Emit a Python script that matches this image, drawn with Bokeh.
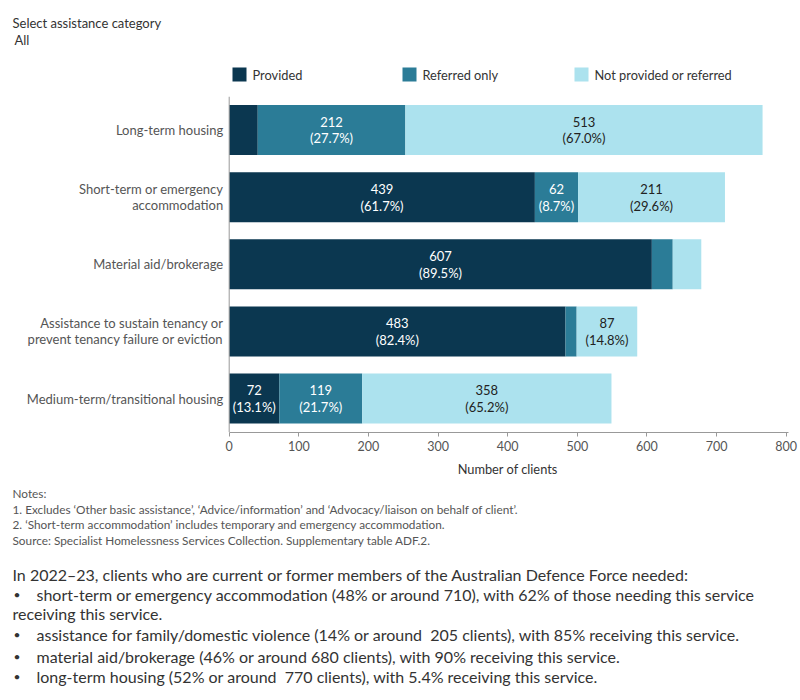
from bokeh.plotting import figure
from bokeh.layouts import column
from bokeh.models import ColumnDataSource, Range1d, FixedTicker
from bokeh.core.properties import value
from bokeh.embed import file_html
from bokeh.resources import INLINE

categories = [
    "Long-term housing",
    "Short-term or emergency\naccommodation",
    "Material aid/brokerage",
    "Assistance to sustain tenancy or\nprevent tenancy failure or eviction",
    "Medium-term/transitional housing",
]
provided = [41, 439, 607, 483, 72]
referred_only = [212, 62, 30, 16, 119]
not_provided = [513, 211, 41, 87, 358]
series_names = ["Provided", "Referred only", "Not provided or referred"]
x_ticks = [0, 100, 200, 300, 400, 500, 600, 700, 800]

FONT = "Lato"
colors = ["#0b3750", "#2b7c97", "#ace2ee"]
text_colors = ["#ffffff", "#ffffff", "#222222"]
W = 800


def blank_fig(h, y0):
    f = figure(width=W, height=h, output_backend="svg", toolbar_location=None,
               x_range=Range1d(0, W), y_range=Range1d(y0 + h, y0), min_border=0)
    f.axis.visible = False
    f.grid.grid_line_color = None
    f.outline_line_color = None
    return f


def put(f, txt, X, Y, size, color="#333333", align="left"):
    f.text(x=[X], y=[Y], text=[txt], text_font=value(FONT), text_font_size=size,
           text_color=color, text_baseline="middle", text_align=align)


# ---------- top: selector + legend ----------
TOP_H = 88
top = blank_fig(TOP_H, 0)
put(top, "Select assistance category", 12, 22, "13px", "#333333")
put(top, "All", 14, 39, "13px", "#333333")
leg_x = [232, 402, 574]
top.rect(x=[lx + 7 for lx in leg_x], y=[74] * 3, width=14, height=14, fill_color=colors, line_color=None)
top.text(x=[lx + 20 for lx in leg_x], y=[74] * 3, text=series_names, text_font=value(FONT),
         text_font_size="12.8px", text_color="#333333", text_baseline="middle", text_align="left")

# ---------- main chart (frame spans full width; data origin placed at pixel 229) ----------
PX0, PX_PER_UNIT = 228.7, 0.6963
x_start = -PX0 / PX_PER_UNIT
x_end = x_start + W / PX_PER_UNIT
n = len(categories)
ypos = [n - 1 - i for i in range(n)]
FRAME_H = 336
MAIN_H = 8 + FRAME_H + 26
p = figure(width=W, height=MAIN_H, output_backend="svg", toolbar_location=None,
           x_range=Range1d(x_start, x_end), y_range=Range1d(-0.505, n - 0.5),
           min_border_left=0, min_border_right=0, min_border_top=8, min_border_bottom=26)
p.outline_line_color = None
p.grid.grid_line_color = None
p.yaxis.visible = False

series = [provided, referred_only, not_provided]
totals = [a + b + c for a, b, c in zip(provided, referred_only, not_provided)]
lefts = [0] * n
for k, vals in enumerate(series):
    rights = [l + v for l, v in zip(lefts, vals)]
    labels = [f"{v}\n({v / t * 100:.1f}%)" if v >= 55 else "" for v, t in zip(vals, totals)]
    src = ColumnDataSource(dict(y=ypos, left=lefts, right=rights,
                                mid=[(l + r) / 2 for l, r in zip(lefts, rights)], label=labels))
    p.hbar(y="y", left="left", right="right", height=0.744, source=src,
           fill_color=colors[k], line_color=None)
    p.text(x="mid", y="y", text="label", source=src, text_align="center", text_baseline="middle",
           text_font=value(FONT), text_font_size="13px", text_color=text_colors[k],
           text_line_height=1.05)
    lefts = rights

# category labels (left of the value axis)
p.text(x=[0] * n, y=ypos, text=categories, x_offset=-6, text_align="right", text_baseline="middle",
       text_font=value(FONT), text_font_size="13px", text_color="#555555", text_line_height=1.0)
# vertical axis line at x = 0
p.segment(x0=[0], x1=[0], y0=[-0.5], y1=[n - 0.5], line_color="#999999", line_width=1)

p.xaxis.ticker = FixedTicker(ticks=x_ticks)
p.xaxis.bounds = (0, 803)
p.xaxis.major_label_text_font = FONT
p.xaxis.major_label_text_font_size = "12.5px"
p.xaxis.major_label_text_color = "#555555"
p.xaxis.major_label_standoff = 4
p.xaxis.axis_line_color = "#999999"
p.xaxis.major_tick_line_color = "#999999"
p.xaxis.major_tick_out = 4
p.xaxis.major_tick_in = 0
p.xaxis.minor_tick_line_color = None

# ---------- bottom: axis title, notes and summary ----------
BOT_Y0 = TOP_H + MAIN_H
bot = blank_fig(700 - BOT_Y0, BOT_Y0)
put(bot, "Number of clients", PX0 + 400 * PX_PER_UNIT, 468, "12.8px", "#333333", align="center")
notes = [
    "Notes:",
    "1. Excludes \u2018Other basic assistance\u2019, \u2018Advice/information\u2019 and \u2018Advocacy/liaison on behalf of client\u2019.",
    "2. \u2018Short-term accommodation\u2019 includes temporary and emergency accommodation.",
    "Source: Specialist Homelessness Services Collection. Supplementary table ADF.2.",
]
for i, t in enumerate(notes):
    put(bot, t, 12, 493 + i * 15.7, "11.8px", "#555555")

put(bot, "In 2022\u201323, clients who are current or former members of the Australian Defence Force needed:", 12, 574, "16px", "#333333")
bullets = [
    ("short-term or emergency accommodation (48% or around 710), with 62% of those needing this service", 594),
    ("assistance for family/domestic violence (14% or around\u00a0 205 clients), with 85% receiving this service.", 634),
    ("material aid/brokerage (46% or around 680 clients), with 90% receiving this service.", 656),
    ("long-term housing (52% or around\u00a0 770 clients), with 5.4% receiving this service.", 676),
]
for t, Y in bullets:
    put(bot, "\u2022", 13, Y, "12px", "#333333")
    put(bot, t, 36, Y, "16px", "#333333")
put(bot, "receiving this service.", 12, 613, "16px", "#333333")

layout = column(top, p, bot, spacing=0)
open("out.html", "w").write(file_html(layout, INLINE))
